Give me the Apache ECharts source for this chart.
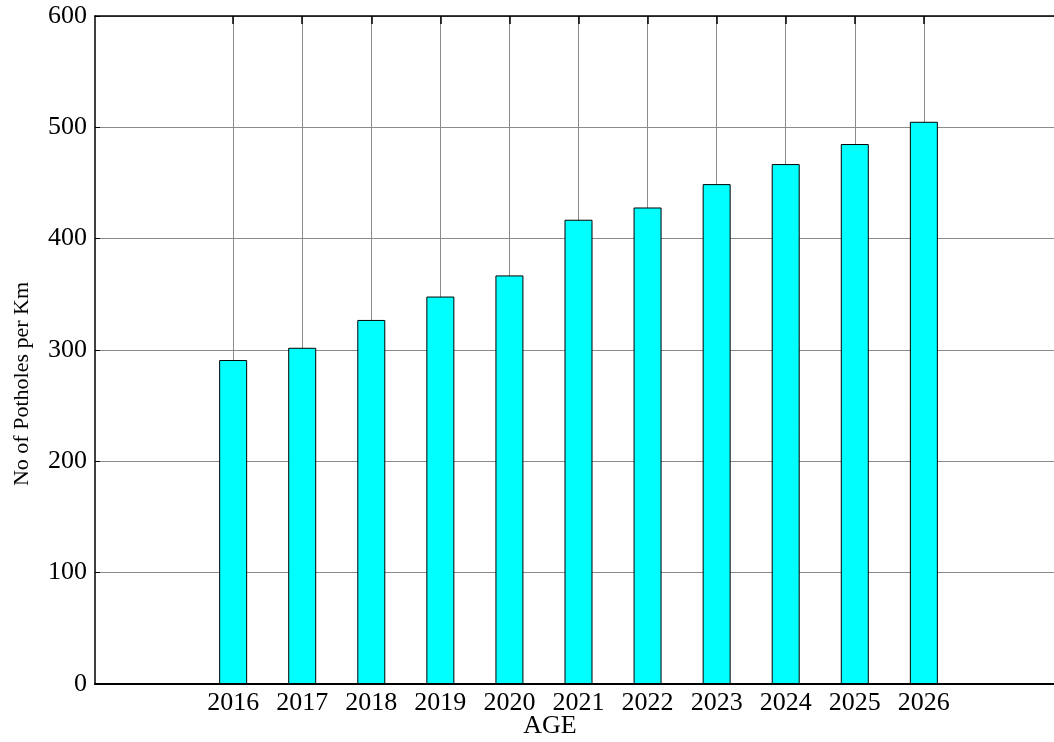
<!DOCTYPE html>
<html>
<head>
<meta charset="utf-8">
<script src="https://cdn.jsdelivr.net/npm/echarts@6/dist/echarts.min.js"></script>
<style>
  html, body { margin: 0; padding: 0; background: #fff; overflow: hidden; }
  /* the plot frame runs slightly past the right edge of the page */
  #chart { width: 1062px; height: 742px; }
</style>
</head>
<body>
<div id="chart"></div>
<script>
// Forecast years and pothole density per km
const years = ['2016', '2017', '2018', '2019', '2020', '2021', '2022', '2023', '2024', '2025', '2026'];
const potholes = [291, 302, 327, 348, 367, 417, 428, 449, 467, 485, 505];
// The x axis runs two years beyond the data on each side
const axisYears = ['2014', '2015', '2016', '2017', '2018', '2019', '2020', '2021', '2022', '2023', '2024', '2025', '2026', '2027', '2028'];
const yTicks = [0, 100, 200, 300, 400, 500, 600];

const serif = '"Liberation Serif", "Times New Roman", serif';
const barData = axisYears.map(y => {
  const i = years.indexOf(y);
  return i >= 0 ? potholes[i] : '-';
});
const isDataYear = (idx, val) => years.indexOf(val) >= 0;

const chart = echarts.init(document.getElementById('chart'), null, { renderer: 'canvas' });
chart.setOption({
  backgroundColor: '#ffffff',
  animation: false,
  grid: { left: 95, top: 16, width: 967, height: 668, containLabel: false },
  xAxis: [
    {
      type: 'category',
      data: axisYears,
      boundaryGap: false,
      position: 'bottom',
      axisLine: { show: true, lineStyle: { color: '#000', width: 2 } },
      axisTick: { show: true, inside: true, length: 6, interval: isDataYear, lineStyle: { color: '#000' } },
      axisLabel: {
        show: true, interval: isDataYear, margin: 6,
        color: '#000', fontFamily: serif, fontSize: 26
      },
      splitLine: { show: true, interval: isDataYear, lineStyle: { color: '#8a8a8a', width: 1 } }
    },
    {
      type: 'category',
      data: axisYears,
      boundaryGap: false,
      position: 'top',
      axisLine: { show: true, lineStyle: { color: '#000', width: 1.5 } },
      axisTick: { show: true, inside: true, length: 8, interval: isDataYear, lineStyle: { color: '#000', width: 1.5 } },
      axisLabel: { show: false },
      splitLine: { show: false },
      z: 5
    }
  ],
  yAxis: {
    type: 'value',
    min: yTicks[0],
    max: yTicks[yTicks.length - 1],
    interval: yTicks[1] - yTicks[0],
    axisLine: { show: true, lineStyle: { color: '#000', width: 1.5 } },
    axisTick: { show: true, inside: true, length: 5, lineStyle: { color: '#000' } },
    axisLabel: { margin: 8, color: '#000', fontFamily: serif, fontSize: 26 },
    splitLine: { show: true, lineStyle: { color: '#8a8a8a', width: 1 } }
  },
  series: [{
    type: 'bar',
    xAxisIndex: 0,
    data: barData,
    barWidth: 28,
    itemStyle: { color: '#00ffff', borderColor: '#000', borderWidth: 1 },
    z: 3
  }],
  graphic: [
    {
      type: 'text',
      x: 550, y: 726,
      style: {
        text: 'AGE', align: 'center', verticalAlign: 'middle',
        font: '26px ' + serif, fill: '#000'
      }
    },
    {
      type: 'text',
      x: 22, y: 384,
      rotation: Math.PI / 2,
      style: {
        text: 'No of Potholes per Km', align: 'center', verticalAlign: 'middle',
        font: '22px ' + serif, fill: '#000'
      }
    }
  ]
});
</script>
</body>
</html>
